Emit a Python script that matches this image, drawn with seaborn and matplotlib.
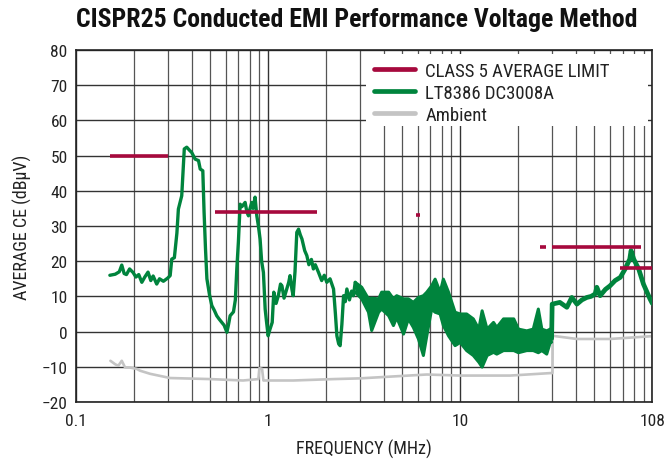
import numpy as np
import pandas as pd
import matplotlib
matplotlib.use("Agg")
import matplotlib.pyplot as plt
from matplotlib import font_manager
from matplotlib.lines import Line2D
from matplotlib.patches import Rectangle
from matplotlib.ticker import LogLocator, NullFormatter, FixedLocator, FixedFormatter
import seaborn as sns

# ──────────────────────────────────────────────
# Data
# ──────────────────────────────────────────────

# LT8386 trace below 3 MHz
low_freq = [0.15, 0.16, 0.168, 0.173, 0.178, 0.183, 0.19, 0.198, 0.205, 0.212,
            0.22, 0.228, 0.237, 0.245, 0.252, 0.263, 0.272, 0.285, 0.3, 0.309,
            0.315, 0.325, 0.335, 0.341, 0.355, 0.366, 0.377, 0.39, 0.40, 0.417,
            0.434, 0.443, 0.457, 0.464, 0.472, 0.48, 0.495, 0.509, 0.525, 0.54,
            0.555, 0.574, 0.59, 0.61, 0.622, 0.634, 0.66, 0.675, 0.687, 0.70,
            0.715, 0.73, 0.759, 0.775, 0.79, 0.805, 0.822, 0.835, 0.855, 0.873,
            0.89, 0.908, 0.925, 0.945, 0.965, 0.98, 1.0, 1.02, 1.05, 1.07,
            1.1, 1.13, 1.16, 1.18, 1.21, 1.25, 1.28, 1.30, 1.33, 1.35,
            1.38, 1.41, 1.44, 1.47, 1.5, 1.55, 1.59, 1.63, 1.68, 1.72,
            1.76, 1.83, 1.9, 1.96, 2.02, 2.1, 2.19, 2.24, 2.28, 2.33,
            2.37, 2.42, 2.47, 2.52, 2.57, 2.65, 2.72, 2.78, 2.84]
low_level = [16, 16.3, 17, 18.9, 16.5, 16.2, 17.8, 16.8, 15.5, 16.2,
             14, 15.5, 16.9, 14.5, 15.8, 13.5, 15, 14.3, 15.2, 15.9,
             20.6, 21, 28, 34.8, 38.6, 51.9, 52.4, 51.5, 50.9, 49,
             48.6, 46.2, 45.7, 34, 23.5, 15, 10.5, 7.4, 6, 4.5,
             3.6, 2.6, 1.8, -0.2, 2, 4.5, 5.6, 9, 17.8, 25.4,
             36.2, 35.5, 36.7, 34, 32.9, 35, 36.7, 35, 38.2, 32.9,
             30, 26.3, 20, 16.8, 6.4, 3, -1.2, 0.5, 2.6, 11.2,
             8, 10.2, 13.5, 13, 9.5, 12.1, 14, 15.9, 12, 10.2,
             17, 28.2, 29.1, 27.5, 26.3, 23, 21.6, 19, 20.5, 17.8,
             19, 16.8, 14.5, 16, 14, 15, 12.1, 5, -1.2, -3.5,
             -4, 2, 10.2, 8.5, 12.1, 9, 11.5, 10.2, 14]

# noisy band between 3 MHz and 30 MHz (upper / lower envelope)
band_freq = [2.84, 3.07, 3.33, 3.46, 3.76, 3.9, 4.24, 4.49, 4.67, 5.07,
             5.37, 5.7, 6.06, 6.43, 6.7, 7.1, 7.4, 7.86, 8.17, 8.69,
             9.4, 10.0, 10.8, 11.7, 12.5, 13.0, 13.8, 14.9, 15.5, 16.8,
             19.0, 20.1, 22.2, 24.0, 25.5, 26.6, 28.2, 29.4, 29.9]
band_hi = [14, 12.6, 9.3, 9.5, 9.3, 11.2, 11.2, 9.3, 10.2, 9.3,
           9.3, 8.3, 9.7, 10.2, 11.2, 13, 14.9, 11.2, 14.9, 11.2,
           5.5, 5, 5, 3.6, 0.7, 5.9, 0.7, 2.6, 1.2, 3.6,
           3.6, 0.7, 0.2, 0.7, 6.4, 0.7, 0.2, 0.7, 1]
band_lo = [11.2, 9.3, 5.5, 0.3, 5.5, 6.4, 4.5, 1.7, 4.0, -0.7,
           3.6, 1.2, -2.1, -6.8, -1.2, 6.4, 5.5, 5.0, 1.7, -1.2,
           -4, -3.1, -5.4, -6.8, -8.7, -10.1, -6.8, -5.9, -6.4, -5.4,
           -5.4, -6, -5.4, -5.4, -6, -5.4, -6.4, -3.1, -3]

# LT8386 trace above 30 MHz
high_freq = [29.9, 30.1, 33, 35.9, 38.1, 40.5, 43, 45.6, 48, 50.4,
             51.4, 53.5, 57, 60.2, 64, 68.1, 72.2, 76.3, 77.5, 80,
             84.9, 89.9, 97.2, 100]
high_level = [-2, 7.8, 8.3, 6.9, 9.7, 7.8, 9, 9.7, 10, 10.7,
              12.6, 10.2, 12, 13, 14.5, 15.4, 17.8, 20.6, 23, 20.6,
              17.8, 13.5, 9.3, 8]

# ambient
amb_freq = [0.151, 0.16, 0.166, 0.173, 0.18, 0.19, 0.207, 0.215, 0.243, 0.309,
            0.5, 0.74, 0.89, 0.90, 0.93, 0.945, 1.35, 2.19, 3.0, 6.7,
            10, 18.2, 29.4, 30.2, 30.3, 40.5, 60.2, 100]
amb_level = [-8.3, -9.3, -9.7, -8.3, -10.2, -10.2, -10.6, -11.1, -12, -13.2,
             -13.5, -13.9, -13.5, -10.4, -10.6, -13.9, -13.9, -13.5, -13.3, -12.2,
             -12.5, -12.5, -11.8, -11.8, -1.2, -2.1, -2.1, -1.3]

# CLASS 5 average limit segments
limit_start = [0.15, 0.53, 5.9, 26, 30, 68]
limit_stop = [0.30, 1.8, 6.2, 28, 87, 108]
limit_level = [50, 34, 33, 24, 24, 18]

x_ticks = [0.1, 1, 10, 100]
x_ticklabels = ["0.1", "1", "10", "108"]
y_ticks = list(range(-20, 81, 10))

RED = "#A6093D"
GREEN = "#00843D"
GRAY = "#C4C4C4"


def pick_font(candidates):
    """Return the first installed family, narrow faces first."""
    installed = {f.name for f in font_manager.fontManager.ttflist}
    for name in candidates:
        if name in installed:
            return name
    return "DejaVu Sans"


# ──────────────────────────────────────────────
# Plot
# ──────────────────────────────────────────────

sns.set_theme(style="white")
narrow = pick_font(["Liberation Sans Narrow", "DejaVu Sans Condensed",
                    "Roboto Condensed", "Open Sans Condensed", "Roboto",
                    "Liberation Sans"])
plt.rcParams["font.family"] = [narrow, "DejaVu Sans"]

fig = plt.figure(figsize=(6.67, 4.6), dpi=100)
ax = fig.add_axes([0.114, 0.124, 0.864, 0.765])

amb = pd.DataFrame({"freq": amb_freq, "level": amb_level})
sns.lineplot(data=amb, x="freq", y="level", color=GRAY, lw=1.9,
             sort=False, estimator=None, ax=ax, zorder=2)

low = pd.DataFrame({"freq": low_freq, "level": low_level})
high = pd.DataFrame({"freq": high_freq, "level": high_level})
sns.lineplot(data=low, x="freq", y="level", color=GREEN, lw=2.4,
             sort=False, estimator=None, ax=ax, zorder=3)
sns.lineplot(data=high, x="freq", y="level", color=GREEN, lw=3.4,
             sort=False, estimator=None, ax=ax, zorder=3)
ax.fill_between(band_freq, band_lo, band_hi, color=GREEN, lw=0, zorder=3)
for edge in (band_hi, band_lo):
    ax.plot(band_freq, edge, color=GREEN, lw=2.2, zorder=3)

lim = pd.DataFrame({
    "seg": np.repeat(np.arange(len(limit_level)), 2),
    "freq": np.ravel(np.column_stack([limit_start, limit_stop])),
    "level": np.repeat(limit_level, 2),
})
sns.lineplot(data=lim, x="freq", y="level", units="seg", estimator=None,
             color=RED, lw=2.6, ax=ax, zorder=4, solid_capstyle="butt")

ax.set_xscale("log")
ax.set_xlim(0.1, 100)
ax.set_ylim(-20, 80)
ax.xaxis.set_major_locator(FixedLocator(x_ticks))
ax.xaxis.set_major_formatter(FixedFormatter(x_ticklabels))
ax.xaxis.set_minor_locator(LogLocator(base=10, subs=np.arange(2, 10)))
ax.xaxis.set_minor_formatter(NullFormatter())
ax.set_yticks(y_ticks)
ax.set_yticklabels([str(v) if v >= 0 else "\u2212" + str(-v) for v in y_ticks])

ax.grid(True, which="major", color="#333333", lw=1.0)
ax.grid(True, which="minor", axis="x", color="#555555", lw=0.9)
ax.tick_params(axis="x", which="both", length=0, labelsize=12.5, colors="#222222", pad=8)
ax.tick_params(axis="y", which="both", length=0, labelsize=12.5, colors="#222222", pad=6)
for s in ax.spines.values():
    s.set_color("#222222")
    s.set_linewidth(1.2)

ax.set_xlabel("FREQUENCY (MHz)", fontsize=13, color="#222222", labelpad=8)
ax.set_ylabel("AVERAGE CE (dB\u00b5V)", fontsize=13, color="#222222", labelpad=7)
fig.suptitle("CISPR25 Conducted EMI Performance Voltage Method",
             fontsize=18.5, fontweight="bold", x=0.535, y=0.983, color="#111111")

# white box behind the legend, hiding the grid there
ax.add_patch(Rectangle((0.503, 0.785), 0.49, 0.203, transform=ax.transAxes,
                       facecolor="white", edgecolor="none", zorder=4.5))

handles = [Line2D([], [], color=RED, lw=3.4),
           Line2D([], [], color=GREEN, lw=3.4),
           Line2D([], [], color=GRAY, lw=3.4)]
labels = ["CLASS 5 AVERAGE LIMIT", "LT8386 DC3008A", "Ambient"]
leg = ax.legend(handles, labels, loc="upper left", bbox_to_anchor=(0.51, 0.978),
                borderaxespad=0, fontsize=13.5, frameon=False,
                handlelength=2.2, handletextpad=0.55, labelspacing=0.22,
                borderpad=0.2)
leg.set_zorder(5)
for t in leg.get_texts():
    t.set_color("#222222")

fig.savefig("out.png", dpi=100)
